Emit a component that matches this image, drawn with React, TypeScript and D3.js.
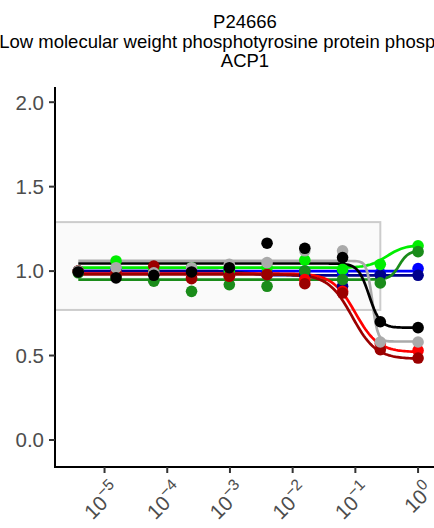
import React from 'react';
import * as d3 from 'd3';

const W = 434;
const H = 528;

const titleLines = ['P24666', 'Low molecular weight phosphotyrosine protein phosphatase', 'ACP1'];

const concentrations = [0.0000038147, 0.0000152588, 0.0000610352, 0.000244141, 0.000976563, 0.00390625, 0.015625, 0.0625, 0.25, 1];

const seriesColors = ['#0000ff', '#00008b', '#00ee00', '#1a8c1a', '#ff0000', '#9b0000', '#aaaaaa', '#000000'];

const blueValues = [1.0, 1.01, 1.0, 1.0, 1.01, 0.99, 1.0, 0.99, 0.985, 1.015];
const darkblueValues = [1.0, 1.0, 0.99, 1.0, 0.99, 0.98, 0.975, 0.91, 0.975, 0.975];
const limeValues = [1.0, 1.06, 1.01, 1.02, 1.0, 1.02, 1.065, 1.01, 1.04, 1.15];
const darkgreenValues = [0.99, 0.98, 0.94, 0.88, 0.92, 0.91, 1.0, 0.95, 0.93, 1.115];
const redValues = [1.0, 0.99, 0.99, 0.96, 0.97, 0.98, 0.95, 0.88, 0.57, 0.53];
const darkredValues = [1.0, 0.98, 1.03, 0.955, 0.97, 0.98, 0.925, 0.87, 0.535, 0.485];
const grayValues = [1.0, 1.02, 0.99, 1.02, 1.04, 1.05, 1.12, 1.12, 0.58, 0.58];
const blackValues = [0.995, 0.96, 0.975, 0.995, 1.02, 1.165, 1.135, 1.08, 0.7, 0.665];

const allValues = [blueValues, darkblueValues, limeValues, darkgreenValues, redValues, darkredValues, grayValues, blackValues];

// fitted log-logistic curve parameters per series
const fitTop = [1.0, 1.0, 1.02, 0.95, 0.985, 0.98, 1.06, 1.045];
const fitBottom = [1.0, 0.975, 1.155, 1.12, 0.52, 0.48, 0.583, 0.665];
const fitLogEC50 = [-2.7, -2.7, -0.5, -0.3, -1.0, -1.05, -0.73, -0.78];
const fitHill = [3, 3, 3, 6, 2.4, 2.3, 10, 5];

const yTicks = [0, 0.5, 1.0, 1.5, 2.0];
const xTickExponents = [-5, -4, -3, -2, -1, 0];

const boxLow = 0.77;
const boxHigh = 1.29;
const boxRightConc = 0.25;

const FONT = "'Liberation Sans', Arial, Helvetica, sans-serif";

export default function App() {
  const x = d3.scaleLog().domain([Math.pow(10, -5.79), Math.pow(10, 0.27)]).range([55, 435]);
  const y = d3.scaleLinear().domain([-0.16, 2.09]).range([467, 87]);

  const minLog = Math.log10(concentrations[0]);
  const maxLog = Math.log10(concentrations[concentrations.length - 1]);
  const samples = d3.range(0, 201).map((i) => minLog + ((maxLog - minLog) * i) / 200);

  const line = d3
    .line<[number, number]>()
    .x((d) => x(Math.pow(10, d[0])))
    .y((d) => y(d[1]));

  const curves = seriesColors.map((_, s) =>
    line(
      samples.map((lx) => [
        lx,
        fitBottom[s] + (fitTop[s] - fitBottom[s]) / (1 + Math.pow(10, fitHill[s] * (lx - fitLogEC50[s]))),
      ])
    )
  );

  return (
    <svg width={W} height={H} style={{ position: 'absolute', left: 0, top: 0, background: '#fff' }} fontFamily={FONT}>
      {titleLines.map((t, i) => (
        <text key={i} x={245} y={28 + i * 19.5} textAnchor="middle" fontSize={18.5} fill="#000">
          {t}
        </text>
      ))}

      <rect
        x={x.range()[0]}
        y={y(boxHigh)}
        width={x(boxRightConc) - x.range()[0]}
        height={y(boxLow) - y(boxHigh)}
        fill="#fafafa"
        stroke="#cccccc"
        strokeWidth={2}
      />

      {curves.map((d, s) => (
        <path key={s} d={d || ''} fill="none" stroke={seriesColors[s]} strokeWidth={2.7} />
      ))}

      {allValues.map((vals, s) =>
        vals.map((v, i) => <circle key={`${s}-${i}`} cx={x(concentrations[i])} cy={y(v)} r={5.8} fill={seriesColors[s]} />)
      )}

      {/* axes */}
      <line x1={55} y1={y.range()[1]} x2={55} y2={468} stroke="#000" strokeWidth={2} />
      <line x1={54} y1={467} x2={W} y2={467} stroke="#000" strokeWidth={2} />

      {yTicks.map((t) => (
        <g key={t}>
          <line x1={49} x2={55} y1={y(t)} y2={y(t)} stroke="#333" strokeWidth={2} />
          <text x={44} y={y(t)} dy="0.36em" textAnchor="end" fontSize={20.5} fill="#4d4d4d">
            {t.toFixed(1)}
          </text>
        </g>
      ))}

      {xTickExponents.map((e) => {
        const px = x(Math.pow(10, e));
        return (
          <g key={e}>
            <line x1={px} x2={px} y1={467} y2={473} stroke="#333" strokeWidth={2} />
            <g transform={`translate(${px + 6},${481}) rotate(-45)`}>
              <text textAnchor="end" dy="0.75em" fontSize={20.5} fill="#4d4d4d">
                10
                <tspan dy={-9} fontSize={15.5}>
                  {e < 0 ? `\u2212${-e}` : `${e}`}
                </tspan>
              </text>
            </g>
          </g>
        );
      })}
    </svg>
  );
}
